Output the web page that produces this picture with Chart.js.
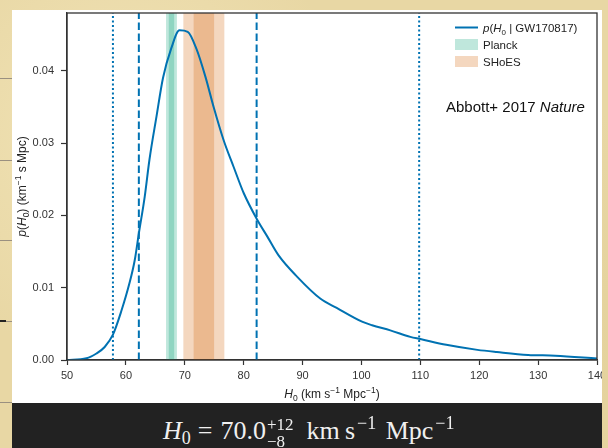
<!DOCTYPE html>
<html>
<head>
<meta charset="utf-8">
<script src="https://cdn.jsdelivr.net/npm/chart.js@4/dist/chart.umd.min.js"></script>
<style>
  html, body { margin: 0; padding: 0; }
  body {
    width: 608px; height: 448px; overflow: hidden; position: relative;
    background:
      radial-gradient(circle at 20% 30%, rgba(245,232,190,0.7), rgba(245,232,190,0) 40%),
      radial-gradient(circle at 80% 80%, rgba(220,200,140,0.5), rgba(220,200,140,0) 45%),
      #e8d7a4;
  }
  .rule { position: absolute; left: 0; width: 12px; height: 1px; background: #9a9080; }
  #panel { position: absolute; left: 12px; top: 10px; width: 590px; height: 393px; background: #fff; }
  #bar {
    position: absolute; left: 12px; top: 403px; width: 590px; height: 45px; background: #222;
    color: #f0f0f0; font-family: "Liberation Serif", "DejaVu Serif", serif; font-size: 26px;
  }
  #formula { position: absolute; left: 151px; top: 5px; line-height: 45px; white-space: nowrap; word-spacing: 3px; }
  .eq { margin: 0 8px 0 7px; }
  .sm { font-size: 18px; position: relative; }
  .sup { top: -10px; margin-left: 2px; }
  .sub0 { top: 5px; }
  .st { display: inline-block; position: relative; width: 31px; height: 20px; font-size: 17px; }
  .st .a { position: absolute; left: 1px; top: -17px; }
  .st .b { position: absolute; left: 1px; top: 0px; }
</style>
</head>
<body>
<div class="rule" style="top:78px"></div>
<div class="rule" style="top:160px"></div>
<div class="rule" style="top:240px"></div>
<div class="rule" style="top:321px"></div>
<div class="rule" style="top:320px;width:6px;height:2px;background:#222"></div>
<div class="rule" style="top:402px"></div>
<div id="panel"><canvas id="myChart" width="590" height="393"></canvas></div>
<div id="bar"><div id="formula"><i>H</i><span class="sm sub0">0</span><span class="eq">=</span>70.0<span class="st"><span class="a">+12</span><span class="b">−8</span></span> km&#8201;s<span class="sm sup">−1</span> Mpc<span class="sm sup">−1</span></div></div>
<script>
// posterior p(H0 | GW170817)
const h0Values = [50, 53.3, 55.0, 56.4, 57.8, 59.2, 60.6, 61.5, 62.2, 63.2, 64.0, 65.2, 66.3, 67.7, 69.1, 70.5, 72.0, 73.5, 74.9, 76.6, 78.3, 80.0, 82.3, 84.0, 85.9, 89.1, 93.0, 95.8, 100.1, 101.8, 104.9, 108.3, 110.0, 114.4, 119.7, 123.0, 128.3, 132.9, 140];
const pValues = [0, 0.00023, 0.0009, 0.0018, 0.0035, 0.0067, 0.0106, 0.0138, 0.0175, 0.0226, 0.0277, 0.0337, 0.0390, 0.0431, 0.0456, 0.0454, 0.0430, 0.0392, 0.0350, 0.0304, 0.0267, 0.0231, 0.0194, 0.0171, 0.0145, 0.0115, 0.0085, 0.0072, 0.0053, 0.0048, 0.0041, 0.0032, 0.0029, 0.0021, 0.0014, 0.0011, 0.0007, 0.0006, 0.0002];

// credible interval lines
const dashedLines = [62.2, 82.2];   // 68%
const dottedLines = [57.8, 109.8];  // 95%

// bands: [inner low, inner high, outer low, outer high]
const planckBand = [67.28, 68.20, 66.82, 68.66];
const shoesBand = [71.5, 74.98, 69.76, 76.72];

const xTicks = [50, 60, 70, 80, 90, 100, 110, 120, 130, 140];
const yTicks = [0, 0.01, 0.02, 0.03, 0.04];
const yMax = 0.048;

const BLUE = '#0072B2';
const GREEN = 'rgba(0,158,115,0.25)';
const ORANGE = 'rgba(213,94,0,0.25)';
const FONT = '"Liberation Sans", Arial, sans-serif';

const vline = (x, dash) => ({
  data: [{ x: x, y: 0 }, { x: x, y: yMax }],
  borderColor: BLUE,
  borderWidth: 2,
  borderDash: dash,
  pointRadius: 0,
  order: 2
});

// draw text pieces one after another: [text, size, italic, dy]
const richText = (ctx, parts, x, y, align) => {
  const fontOf = (p) => (p[2] ? 'italic ' : '') + p[1] + 'px ' + FONT;
  let total = 0;
  parts.forEach(p => { ctx.font = fontOf(p); total += ctx.measureText(p[0]).width; });
  let cx = align === 'center' ? x - total / 2 : x;
  ctx.textAlign = 'left';
  ctx.textBaseline = 'alphabetic';
  parts.forEach(p => {
    ctx.font = fontOf(p);
    ctx.fillText(p[0], cx, y + (p[3] || 0));
    cx += ctx.measureText(p[0]).width;
  });
};

const decorations = {
  id: 'decorations',
  beforeDatasetsDraw(chart) {
    const { ctx, chartArea: a, scales: { x } } = chart;
    const band = (lo, hi, color) => {
      ctx.fillStyle = color;
      const l = x.getPixelForValue(lo), r = x.getPixelForValue(hi);
      ctx.fillRect(l, a.top, r - l, a.bottom - a.top);
    };
    ctx.save();
    [[planckBand, GREEN], [shoesBand, ORANGE]].forEach(([b, c]) => {
      band(b[2], b[3], c);
      band(b[0], b[1], c);
    });
    ctx.restore();
  },
  afterDraw(chart) {
    const { ctx, chartArea: a } = chart;
    ctx.save();
    // frame
    ctx.strokeStyle = '#333';
    ctx.lineWidth = 1.3;
    ctx.strokeRect(a.left, a.top, a.right - a.left, a.bottom - a.top);

    ctx.fillStyle = '#222';
    // x title
    richText(ctx, [['H', 12, true], ['0', 8.5, false, 3], [' (km s', 12], ['−1', 8.5, false, -5], [' Mpc', 12], ['−1', 8.5, false, -5], [')', 12]],
      (a.left + a.right) / 2, 388, 'center');
    // y title
    ctx.save();
    ctx.translate(14, (a.top + a.bottom) / 2);
    ctx.rotate(-Math.PI / 2);
    richText(ctx, [['p', 12, true], ['(', 12], ['H', 12, true], ['0', 8.5, false, 3], [') (km', 12], ['−1', 8.5, false, -5], [' s Mpc)', 12]],
      0, 0, 'center');
    ctx.restore();

    // legend
    const lx = 443, tx = 471;
    ctx.strokeStyle = BLUE;
    ctx.lineWidth = 2;
    ctx.beginPath();
    ctx.moveTo(lx, 17.5);
    ctx.lineTo(lx + 23, 17.5);
    ctx.stroke();
    ctx.fillStyle = '#222';
    richText(ctx, [['p', 11.5, true], ['(', 11.5], ['H', 11.5, true], ['0', 8, false, 3], [' | GW170817)', 11.5]], tx, 22);
    ctx.fillStyle = GREEN;
    ctx.fillRect(lx, 29, 23, 11);
    ctx.fillStyle = ORANGE;
    ctx.fillRect(lx, 46, 23, 11);
    ctx.fillStyle = '#222';
    richText(ctx, [['Planck', 11.5]], tx, 39);
    richText(ctx, [['SHoES', 11.5]], tx, 56);

    // annotation
    ctx.fillStyle = '#111';
    richText(ctx, [['Abbott+ 2017 ', 15], ['Nature', 15, true]], 434, 102);
    ctx.restore();
  }
};

new Chart(document.getElementById('myChart'), {
  type: 'line',
  data: {
    datasets: [
      {
        data: h0Values.map((h, i) => ({ x: h, y: pValues[i] })),
        borderColor: BLUE,
        borderWidth: 2,
        pointRadius: 0,
        cubicInterpolationMode: 'monotone',
        order: 1
      },
      ...dashedLines.map(v => vline(v, [7.5, 3.5])),
      ...dottedLines.map(v => vline(v, [2, 2.5]))
    ]
  },
  options: {
    responsive: false,
    animation: false,
    events: [],
    layout: { padding: { top: 3, right: 5, left: 0, bottom: 0 } },
    plugins: { legend: { display: false }, tooltip: { enabled: false } },
    scales: {
      x: {
        type: 'linear',
        min: 50,
        max: 140,
        afterBuildTicks: s => { s.ticks = xTicks.map(v => ({ value: v })); },
        afterFit: s => { s.height = 43; s.paddingLeft = 0; s.paddingRight = 0; },
        grid: { drawOnChartArea: false, tickLength: 5, tickColor: '#333', tickWidth: 1.2 },
        border: { color: '#333', width: 1.3 },
        ticks: { color: '#333', font: { family: FONT, size: 11 }, padding: 4, maxRotation: 0, autoSkip: false }
      },
      y: {
        min: 0,
        max: yMax,
        afterBuildTicks: s => { s.ticks = yTicks.map(v => ({ value: v })); },
        afterFit: s => { s.width = 55; s.paddingTop = 0; s.paddingBottom = 0; },
        grid: { drawOnChartArea: false, tickLength: 6, tickColor: '#333', tickWidth: 1.2 },
        border: { color: '#333', width: 1.3 },
        ticks: { color: '#333', font: { family: FONT, size: 11 }, padding: 7, callback: v => v.toFixed(2) }
      }
    }
  },
  plugins: [decorations]
});
</script>
</body>
</html>
